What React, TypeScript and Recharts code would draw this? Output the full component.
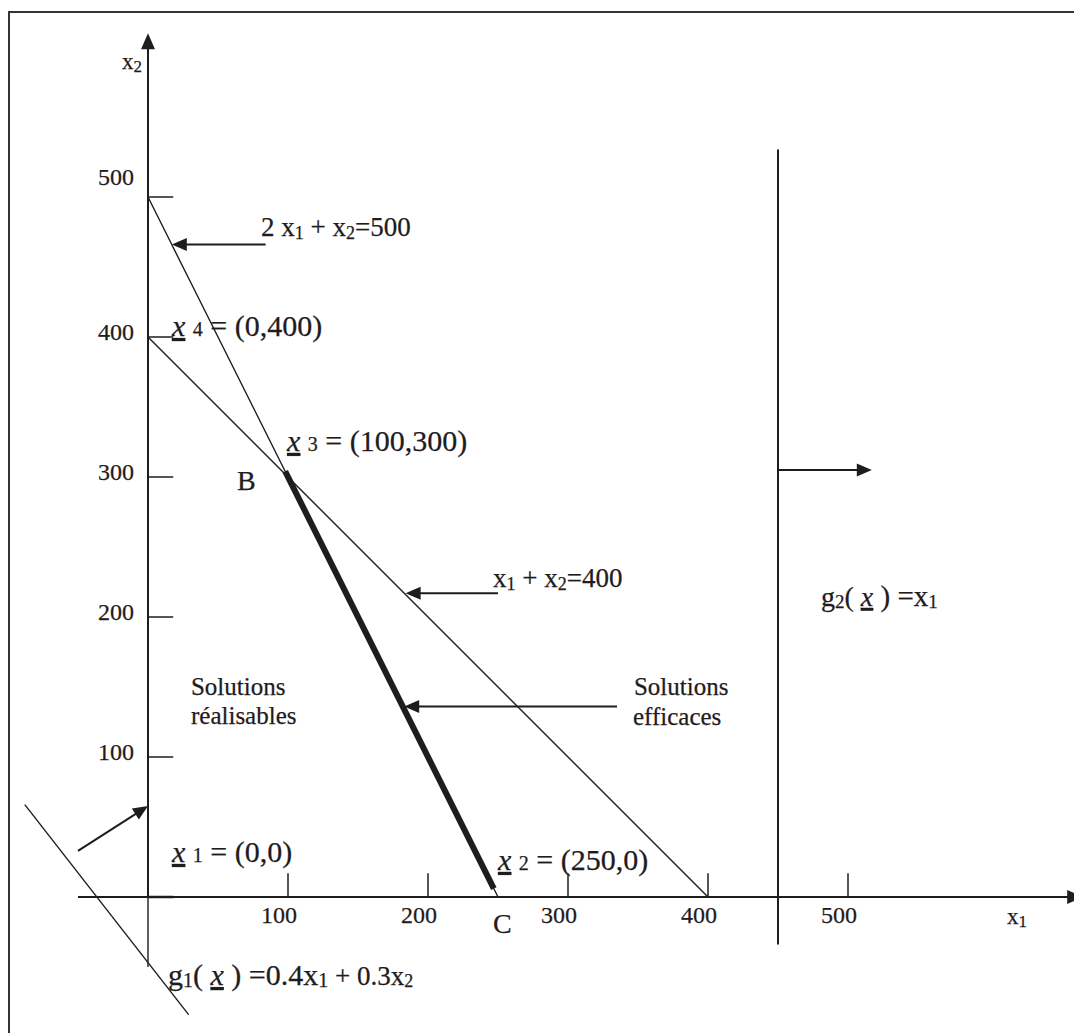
import React from 'react';
import { ComposedChart, Line, XAxis, YAxis, ReferenceLine, ReferenceDot } from 'recharts';

const INK = '#1f1c1d';
const FONT = "'Liberation Serif', 'Times New Roman', Times, serif";

// ---------- data ----------
const xTickValues = [100, 200, 300, 400, 500];
const yTickMarkValues = [0, 100, 200, 300, 400, 500];
const yTickLabelValues = [100, 200, 300, 400, 500];

// 2 x1 + x2 = 500
const constraintA = [
  { x: 0, y: 500 },
  { x: 250, y: 0 },
];
// x1 + x2 = 400
const constraintB = [
  { x: 0, y: 400 },
  { x: 400, y: 0 },
];
// efficient edge B-C (thick)
const efficientEdge = [
  { x: 98, y: 304 },
  { x: 247, y: 6 },
];
// level line of g1 = 0.4x1 + 0.3x2
const g1Level = [
  { x: -88, y: 66 },
  { x: 29, y: -84 },
];
// level line of g2 = x1
const g2Level = [
  { x: 450, y: 534 },
  { x: 450, y: -34 },
];

// axes & arrows (segments, in data units)
const xAxisSegment = [{ x: -50, y: 0 }, { x: 668, y: 0 }];
const yAxisSegment = [{ x: 0, y: 0 }, { x: 0, y: 617 }];
const yAxisLower = [{ x: 0, y: -50 }, { x: 0, y: 0 }];
const arrowG1 = [{ x: -50, y: 33 }, { x: 0, y: 65 }];
const arrowA = [{ x: 84, y: 466 }, { x: 17, y: 466 }];
const arrowB = [{ x: 250, y: 217 }, { x: 184, y: 217 }];
const arrowEff = [{ x: 335, y: 136 }, { x: 183, y: 136 }];
const arrowG2 = [{ x: 450, y: 305 }, { x: 517, y: 305 }];

// ---------- layout ----------
const X_DOMAIN: [number, number] = [-100, 664.2857];
const Y_DOMAIN: [number, number] = [-97.1429, 635];
const W = 1070;
const H = 1025;

type Part = { t: string; size: number; italic?: boolean; underline?: boolean; shift?: number };
type Note = { x: number; y: number; anchor?: 'start' | 'middle' | 'end'; parts: Part[] };

const sub = (t: string, size = 18, shift = 3): Part => ({ t, size, shift });
const ux = (size: number): Part => ({ t: 'x', size, italic: true, underline: true });

const notes: Note[] = [
  { x: -18.6, y: 591.4, parts: [{ t: 'x', size: 23 }, sub('2', 17, 3)] },
  { x: 613.6, y: -19.3, parts: [{ t: 'x', size: 23 }, sub('1', 17, 3)] },
  {
    x: 80.7,
    y: 472.1,
    parts: [{ t: '2 x', size: 27 }, sub('1'), { t: ' + x', size: 27 }, sub('2'), { t: '=500', size: 27 }],
  },
  {
    x: 246.4,
    y: 221.4,
    parts: [{ t: 'x', size: 27 }, sub('1'), { t: ' + x', size: 27 }, sub('2'), { t: '=400', size: 27 }],
  },
  { x: 17.1, y: 400.7, parts: [ux(30), { t: ' ', size: 30 }, { t: '4', size: 20 }, { t: ' = (0,400)', size: 30 }] },
  { x: 99.3, y: 318.6, parts: [ux(30), { t: ' ', size: 30 }, { t: '3', size: 20 }, { t: ' = (100,300)', size: 30 }] },
  { x: 17.1, y: 25, parts: [ux(30), { t: ' ', size: 30 }, { t: '1', size: 20 }, { t: ' = (0,0)', size: 30 }] },
  { x: 250, y: 19.3, parts: [ux(30), { t: ' ', size: 30 }, { t: '2', size: 20 }, { t: ' = (250,0)', size: 30 }] },
  { x: 63.6, y: 290.7, parts: [{ t: 'B', size: 28 }] },
  { x: 246.4, y: -25.7, parts: [{ t: 'C', size: 28 }] },
  {
    x: 480.7,
    y: 207.9,
    parts: [{ t: 'g', size: 28 }, sub('2', 19, 2), { t: '( ', size: 28 }, ux(28), { t: ' ) =x', size: 29 }, sub('1', 19, 2)],
  },
  { x: 30.7, y: 144.3, parts: [{ t: 'Solutions', size: 25 }] },
  { x: 30.7, y: 123.6, parts: [{ t: 'réalisables', size: 25 }] },
  { x: 347.1, y: 144.3, parts: [{ t: 'Solutions', size: 25 }] },
  { x: 346.4, y: 122.9, parts: [{ t: 'efficaces', size: 25 }] },
  {
    x: 14.3,
    y: -62.9,
    parts: [
      { t: 'g', size: 30 },
      sub('1', 20, 2),
      { t: '( ', size: 30 },
      ux(30),
      { t: ' ) =0.4x', size: 30 },
      sub('1', 20, 2),
      { t: ' + 0.3x', size: 27 },
      sub('2', 18, 2),
    ],
  },
];

const xTickLabelDx = -6.4;
const xTickLabelY = -18.6;
const yTickLabelX = -10;
const yTickLabelDy = (v: number) => (v === 500 ? 8.6 : -2.1);

// ---------- drawing helpers ----------
function RichText({ x, y, anchor, parts }: { x: number; y: number; anchor?: string; parts: Part[] }) {
  let prev = 0;
  return (
    <text
      x={x}
      y={y}
      textAnchor={anchor || 'start'}
      fill={INK}
      stroke={INK}
      strokeWidth={0.25}
      fontFamily={FONT}
      style={{ whiteSpace: 'pre' }}
    >
      {parts.map((p, i) => {
        const s = p.shift ?? 0;
        const dy = s - prev;
        prev = s;
        return (
          <tspan
            key={i}
            dy={dy}
            fontSize={p.size}
            fontStyle={p.italic ? 'italic' : 'normal'}
            textDecoration={p.underline ? 'underline' : undefined}
          >
            {p.t}
          </tspan>
        );
      })}
    </text>
  );
}

const makeArrow = (len: number, half: number, width: number) => (props: any) => {
  const { x1, y1, x2, y2 } = props;
  const dx = x2 - x1;
  const dy = y2 - y1;
  const d = Math.sqrt(dx * dx + dy * dy) || 1;
  const ux = dx / d;
  const uy = dy / d;
  const bx = x2 - ux * len;
  const by = y2 - uy * len;
  const px = -uy * half;
  const py = ux * half;
  return (
    <g>
      <line x1={x1} y1={y1} x2={bx + ux} y2={by + uy} stroke={INK} strokeWidth={width} />
      <polygon points={`${x2},${y2} ${bx + px},${by + py} ${bx - px},${by - py}`} fill={INK} />
    </g>
  );
};

const plainLine = (width: number) => (props: any) => {
  const { x1, y1, x2, y2 } = props;
  return <line x1={x1} y1={y1} x2={x2} y2={y2} stroke={INK} strokeWidth={width} />;
};

const seg = (s: { x: number; y: number }[]) => [s[0], s[1]] as any;

export default function App() {
  return (
    <div
      style={{
        position: 'fixed',
        left: 0,
        top: 0,
        width: 1074,
        height: 1033,
        overflow: 'hidden',
        background: '#fff',
      }}
    >
      <div
        style={{
          position: 'absolute',
          left: 8,
          top: 10.5,
          width: 1100,
          height: 1100,
          borderLeft: '2px solid #333',
          borderTop: '2px solid #333',
          pointerEvents: 'none',
        }}
      />
      <div style={{ position: 'absolute', left: 8, top: 8, width: W, height: H }}>
        <ComposedChart width={W} height={H} margin={{ top: 0, right: 0, bottom: 0, left: 0 }} style={{ overflow: 'visible' }}>
          <XAxis type="number" dataKey="x" domain={X_DOMAIN} hide allowDataOverflow ticks={xTickValues} />
          <YAxis type="number" dataKey="y" domain={Y_DOMAIN} hide allowDataOverflow ticks={yTickLabelValues} />

          <Line data={constraintA} dataKey="y" type="linear" stroke={INK} strokeWidth={1.4} dot={false} activeDot={false} isAnimationActive={false} />
          <Line data={constraintB} dataKey="y" type="linear" stroke={INK} strokeWidth={1.4} dot={false} activeDot={false} isAnimationActive={false} />
          <Line data={g1Level} dataKey="y" type="linear" stroke={INK} strokeWidth={1.4} dot={false} activeDot={false} isAnimationActive={false} />
          <Line data={g2Level} dataKey="y" type="linear" stroke={INK} strokeWidth={2} dot={false} activeDot={false} isAnimationActive={false} />
          <Line data={efficientEdge} dataKey="y" type="linear" stroke={INK} strokeWidth={6} dot={false} activeDot={false} isAnimationActive={false} />

          <ReferenceLine segment={seg(xAxisSegment)} ifOverflow="visible" shape={makeArrow(16, 7, 2)} />
          <ReferenceLine segment={seg(yAxisSegment)} ifOverflow="visible" shape={makeArrow(16, 7, 2)} />
          <ReferenceLine segment={seg(yAxisLower)} ifOverflow="visible" shape={plainLine(1.4)} />

          {yTickMarkValues.map((v) => (
            <ReferenceLine key={'yt' + v} segment={[{ x: 0, y: v }, { x: 18, y: v }]} ifOverflow="visible" shape={plainLine(v === 0 ? 2.5 : 1.5)} />
          ))}
          {xTickValues.map((v) => (
            <ReferenceLine key={'xt' + v} segment={[{ x: v, y: 0 }, { x: v, y: 17 }]} ifOverflow="visible" shape={plainLine(1.5)} />
          ))}

          <ReferenceLine segment={seg(arrowG1)} ifOverflow="visible" shape={makeArrow(15, 6.5, 2)} />
          <ReferenceLine segment={seg(arrowA)} ifOverflow="visible" shape={makeArrow(15, 6.5, 2)} />
          <ReferenceLine segment={seg(arrowB)} ifOverflow="visible" shape={makeArrow(15, 6.5, 2)} />
          <ReferenceLine segment={seg(arrowEff)} ifOverflow="visible" shape={makeArrow(15, 6.5, 2)} />
          <ReferenceLine segment={seg(arrowG2)} ifOverflow="visible" shape={makeArrow(15, 6.5, 2)} />

          {xTickValues.map((v) => (
            <ReferenceDot
              key={'xl' + v}
              x={v + xTickLabelDx}
              y={xTickLabelY}
              r={0}
              ifOverflow="visible"
              shape={(p: any) => <RichText x={p.cx} y={p.cy} anchor="middle" parts={[{ t: String(v), size: 24 }]} />}
            />
          ))}
          {yTickLabelValues.map((v) => (
            <ReferenceDot
              key={'yl' + v}
              x={yTickLabelX}
              y={v + yTickLabelDy(v)}
              r={0}
              ifOverflow="visible"
              shape={(p: any) => <RichText x={p.cx} y={p.cy} anchor="end" parts={[{ t: String(v), size: 24 }]} />}
            />
          ))}
          {notes.map((n, i) => (
            <ReferenceDot
              key={'n' + i}
              x={n.x}
              y={n.y}
              r={0}
              ifOverflow="visible"
              shape={(p: any) => <RichText x={p.cx} y={p.cy} anchor={n.anchor} parts={n.parts} />}
            />
          ))}
        </ComposedChart>
      </div>
    </div>
  );
}
